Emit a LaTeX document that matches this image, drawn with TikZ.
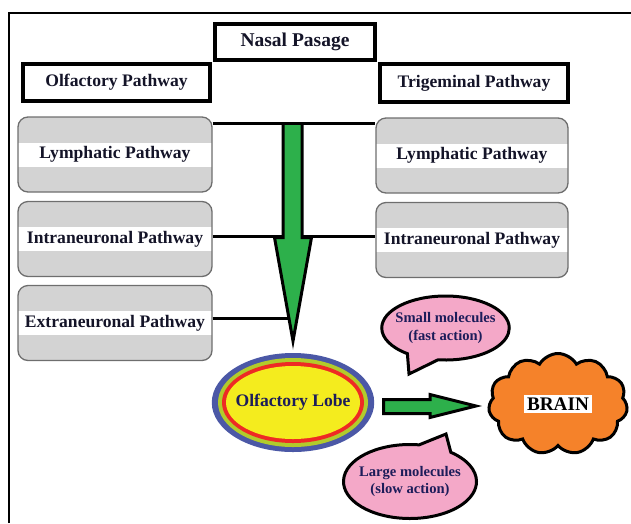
\documentclass[tikz,border=0pt]{standalone}
\usepackage{fontspec}
\setmainfont{Liberation Serif}
\usetikzlibrary{shapes.geometric,shapes.symbols,shapes.callouts,calc}
\definecolor{txt}{HTML}{141428}
\definecolor{lobetxt}{HTML}{1C1C5A}
\definecolor{lobeblue}{HTML}{4B58A6}
\definecolor{lobegreen}{HTML}{B2CB2B}
\definecolor{lobered}{HTML}{EE2A24}
\definecolor{lobeyellow}{HTML}{F4EC1E}
\definecolor{arrowgreen}{HTML}{2DB04B}
\definecolor{pinkc}{HTML}{F4A8C8}
\definecolor{brainorange}{HTML}{F5822A}
\definecolor{boxfill}{HTML}{D3D3D3}
\definecolor{boxline}{HTML}{6E6E6E}
\begin{document}
\begin{tikzpicture}[x=1pt,y=-1pt,
  hdr/.style={draw=black, line width=4pt, fill=white, inner sep=0pt,
    font=\fontsize{17.6}{20}\selectfont\bfseries, text=txt},
  gbox/.style={rounded corners=10pt, draw=boxline, line width=1.3pt, fill=boxfill,
    minimum height=75pt, inner sep=0pt, font=\fontsize{17.6}{20}\selectfont\bfseries, text=txt,
    path picture={\fill[white, sharp corners] ([yshift=-12pt]path picture bounding box.west) rectangle ([yshift=12pt]path picture bounding box.east);}},
  conn/.style={line width=3pt, draw=black},
  arrowst/.style={line width=3pt, draw=black, fill=arrowgreen, line join=miter},
  bubble/.style={ellipse callout, draw=black, line width=3pt, fill=pinkc,
    callout pointer arc=30, align=center, text=lobetxt,
    font=\fontsize{14.6}{17.5}\selectfont\bfseries}
]
\useasboundingbox (0,0) rectangle (631,523);
% frame
\draw[line width=2pt] (9,523) -- (9,13) -- (631,13);

% header boxes
\node[hdr, minimum width=160pt, minimum height=36pt, font=\fontsize{19.5}{22}\selectfont\bfseries] (nasal) at (295,42) {Nasal Pasage};
\node[hdr, minimum width=187pt, minimum height=37pt] (olf) at (116.5,82.5) {Olfactory Pathway};
\node[hdr, minimum width=188pt, minimum height=38pt] (tri) at (474,83) {Trigeminal Pathway};

% gray boxes
\node[gbox, minimum width=194pt] (lymL) at (115,154.5) {Lymphatic Pathway};
\node[gbox, minimum width=194pt] (intL) at (115,239) {Intraneuronal Pathway};
\node[gbox, minimum width=194pt] (extL) at (115,323) {Extraneuronal Pathway};
\node[gbox, minimum width=192pt] (lymR) at (472,155.5) {Lymphatic Pathway};
\node[gbox, minimum width=192pt] (intR) at (472,240) {Intraneuronal Pathway};

% connectors (under the arrow)
\path ($(intL.east)+(0,-3)$) coordinate (c2);
\draw[conn] (c2) -- (c2 -| intR.west);
\coordinate (aedge) at (290,318);
\path ($(extL.east)+(0,-5)$) coordinate (c3);
\draw[conn] (c3) -- (c3 -| aedge);

% down arrow
\filldraw[arrowst] (283,124) -- (283,237.5) -- (274.5,237.5) -- (293,341) -- (311.5,237.5) -- (302,237.5) -- (302,124);

% top connector
\path ($(lymL.north east)+(0,7)$) coordinate (c1);
\draw[conn] (c1) -- (c1 -| lymR.west);

% olfactory lobe
\node[ellipse, fill=lobeblue, minimum width=160pt, minimum height=99pt, inner sep=0pt,
  font=\fontsize{17.6}{20}\selectfont\bfseries, text=lobetxt,
  path picture={
    \fill[lobegreen] (path picture bounding box.center) ellipse [x radius=75pt, y radius=44.5pt];
    \fill[lobered] (path picture bounding box.center) ellipse [x radius=71pt, y radius=40.5pt];
    \fill[lobeyellow] (path picture bounding box.center) ellipse [x radius=67pt, y radius=36.5pt];
  }] (lobe) at (293,402.5) {Olfactory Lobe};

% right arrow
\filldraw[arrowst] (383.5,399.5) -- (430,399.5) -- (430,394.5) -- (476,406) -- (430,417.5) -- (430,413.5) -- (383.5,413.5) -- cycle;

% brain
\node[cloud, cloud puffs=11, cloud puff arc=120, aspect=1.4, draw=black, line width=3pt,
  fill=brainorange, minimum width=139pt, minimum height=101pt, inner sep=0pt,
  font=\fontsize{19.2}{22}\selectfont\bfseries, text=black] (brain) at (558,404)
  {\setlength{\fboxsep}{3pt}\colorbox{white}{BRAIN}};

% callouts
\node[bubble, inner xsep=-5pt, inner ysep=0pt, minimum width=127pt, minimum height=64pt, callout absolute pointer={(409,374)}] (small) at (445.5,328) {Small molecules\\(fast action)};
\node[bubble, inner xsep=-4pt, inner ysep=0pt, minimum width=133pt, minimum height=74pt, callout absolute pointer={(446,434)}] (large) at (410,481.5) {Large molecules\\(slow action)};
\end{tikzpicture}
\end{document}
